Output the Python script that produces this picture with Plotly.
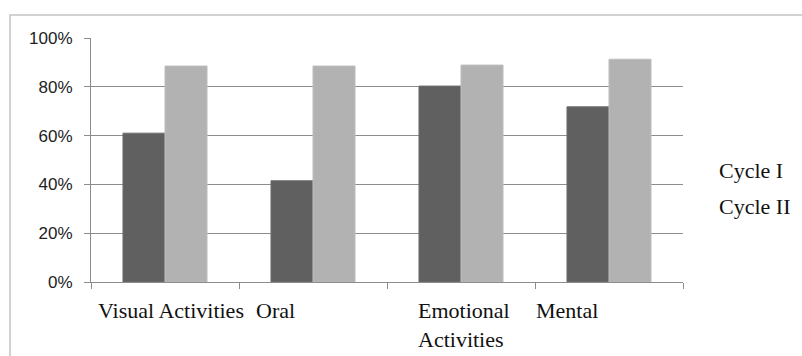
import plotly.graph_objects as go

categories = ["Visual Activities", "Oral", "Emotional Activities", "Mental"]
label_text = ["Visual Activities", "Oral", "Emotional<br>Activities", "Mental"]
series_names = ["Cycle I", "Cycle II"]
cycle1 = [0.61, 0.415, 0.803, 0.718]
cycle2 = [0.885, 0.885, 0.889, 0.913]
y_ticks = [0, 0.2, 0.4, 0.6, 0.8, 1.0]

colors = ["#606060", "#b2b2b2"]
edge = ["#6e6e6e", "#bdbdbd"]

W, H = 802, 356
ml, mr, mt, mb = 91, 119, 38, 74
pw, ph = W - ml - mr, H - mt - mb

fig = go.Figure()
for name, vals, c, e in zip(series_names, [cycle1, cycle2], colors, edge):
    fig.add_trace(go.Bar(x=categories, y=vals, name=name, marker=dict(color=c, line=dict(color=e, width=1)),
                         showlegend=False))

serif = "Liberation Serif"
ann = []
label_shift = [-69, -59, -45, -75]
for cat, txt, xs in zip(categories, label_text, label_shift):
    ann.append(dict(x=cat, xref="x", y=0, yref="paper", xanchor="left", yanchor="top", align="left",
                    xshift=xs, yshift=-14, text=txt, showarrow=False,
                    font=dict(family=serif, size=22, color="#111111")))
legend_y = [0.455, 0.311]
for name, ly in zip(series_names, legend_y):
    ann.append(dict(x=(717 - ml) / pw, xref="paper", y=ly, yref="paper", xanchor="left", yanchor="middle",
                    text=name, showarrow=False, font=dict(family=serif, size=22, color="#111111")))

shapes = [dict(type="rect", xref="paper", yref="paper",
               x0=(10 - ml) / pw, x1=(812 - ml) / pw, y0=(ph - (370 - mt)) / ph, y1=(ph - (15 - mt)) / ph,
               line=dict(color="#c4c4c4", width=1.5), fillcolor="rgba(0,0,0,0)", layer="below")]

fig.update_layout(
    width=W, height=H, margin=dict(l=ml, r=mr, t=mt, b=mb),
    paper_bgcolor="white", plot_bgcolor="white",
    barmode="group", bargap=0.432, bargroupgap=0,
    annotations=ann, shapes=shapes,
    xaxis=dict(type="category", showticklabels=False, ticks="outside", tickson="boundaries", ticklen=6,
               tickcolor="#8c8c8c", showline=True, linecolor="#8c8c8c", linewidth=1, showgrid=False,
               range=[-0.5, 3.5]),
    yaxis=dict(range=[0, 1], tickvals=y_ticks, tickformat=".0%", ticks="outside", ticklen=6,
               tickcolor="#8c8c8c", showline=True, linecolor="#8c8c8c", linewidth=1,
               showgrid=True, gridcolor="#8c8c8c", gridwidth=1, zeroline=False, ticklabelstandoff=8,
               tickfont=dict(family="Liberation Sans", size=17, color="#222222")),
)

fig.write_html("out.html")
